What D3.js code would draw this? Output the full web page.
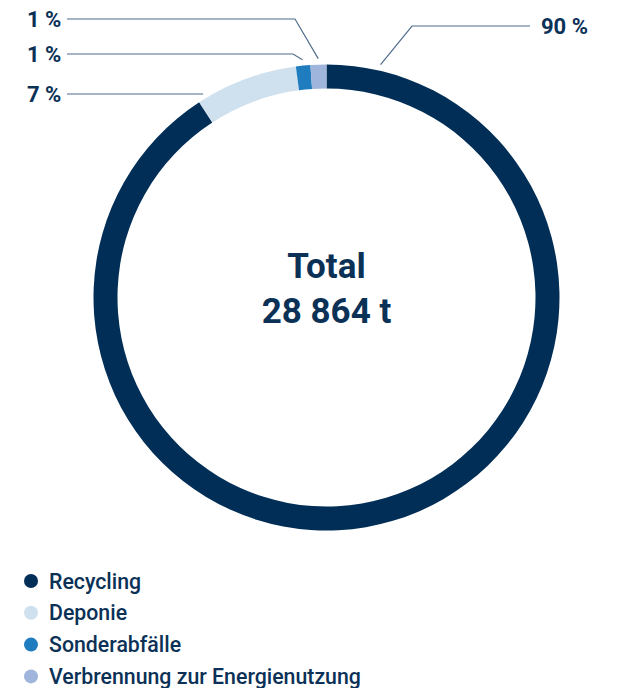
<!DOCTYPE html>
<html>
<head>
<meta charset="utf-8">
<script src="https://cdn.jsdelivr.net/npm/d3@7"></script>
<style>
  body { margin: 0; background: #fff; }
  svg { display: block; font-family: Roboto, "Noto Sans", sans-serif; }
</style>
</head>
<body>
<svg width="617" height="688"></svg>
<script>
var categories = ["Recycling", "Deponie", "Sonderabfälle", "Verbrennung zur Energienutzung"];
var shares = [90.8, 7.1, 1.0, 1.1];
var labels = ["90 %", "7 %", "1 %", "1 %"];
var colors = ["#002e57", "#cfe0ee", "#1f7cbf", "#a0b5dc"];
var totalText = ["Total", "28 864 t"];

var width = 617;
var cx = 326.5, cy = 297.5;
var outerR = 233, innerR = 209;
var textColor = "#0b3157";
var lineColor = "#4f6d8c";

var svg = d3.select("svg");

var pie = d3.pie().sort(null).value(function(d) { return d; });
var arcs = pie(shares);

var arc = d3.arc().innerRadius(innerR).outerRadius(outerR);

var g = svg.append("g").attr("transform", "translate(" + cx + "," + cy + ")");

g.selectAll("path")
  .data(arcs)
  .enter()
  .append("path")
  .attr("d", arc)
  .attr("fill", function(d, i) { return colors[i]; });

// leader lines: angle on the ring (fraction inside slice), label y, side
var leader = [
  { t: 0.04, y: 26, side: "right", bend: 412 },
  { t: 0.08, y: 94, side: "left", bend: null },
  { t: 0.5, y: 54, side: "left", bend: 293 },
  { t: 0.5, y: 19, side: "left", bend: 295 }
];

var lineR = 239;
arcs.forEach(function(d, i) {
  var L = leader[i];
  var a = d.startAngle + (d.endAngle - d.startAngle) * L.t;
  var px = cx + lineR * Math.sin(a);
  var py = cy - lineR * Math.cos(a);
  var pts;
  if (L.side === "right") {
    pts = [[px, py], [L.bend, L.y], [530, L.y]];
  } else if (L.bend === null) {
    pts = [[px, L.y], [67, L.y]];
  } else {
    pts = [[px, py], [L.bend, L.y], [67, L.y]];
  }
  svg.append("path")
    .attr("d", d3.line()(pts))
    .attr("fill", "none")
    .attr("stroke", lineColor)
    .attr("stroke-width", 1.2);

  svg.append("text")
    .attr("x", L.side === "right" ? 541 : 27)
    .attr("y", L.y)
    .attr("dy", "0.36em")
    .attr("font-size", 22)
    .attr("font-weight", 700)
    .attr("fill", textColor)
    .text(labels[i]);
});

// center total
svg.selectAll("text.total")
  .data(totalText)
  .enter()
  .append("text")
  .attr("class", "total")
  .attr("x", cx)
  .attr("y", function(d, i) { return 278 + i * 45; })
  .attr("text-anchor", "middle")
  .attr("font-size", 35)
  .attr("font-weight", 700)
  .attr("fill", textColor)
  .text(function(d) { return d; });

// legend
var legend = svg.selectAll("g.legend")
  .data(categories)
  .enter()
  .append("g")
  .attr("class", "legend")
  .attr("transform", function(d, i) { return "translate(31," + (581 + i * 31.8) + ")"; });

legend.append("circle")
  .attr("r", 7)
  .attr("fill", function(d, i) { return colors[i]; });

legend.append("text")
  .attr("x", 18)
  .attr("dy", "0.36em")
  .attr("font-size", 21.3)
  .attr("font-weight", 500)
  .attr("fill", textColor)
  .text(function(d) { return d; });
</script>
</body>
</html>
